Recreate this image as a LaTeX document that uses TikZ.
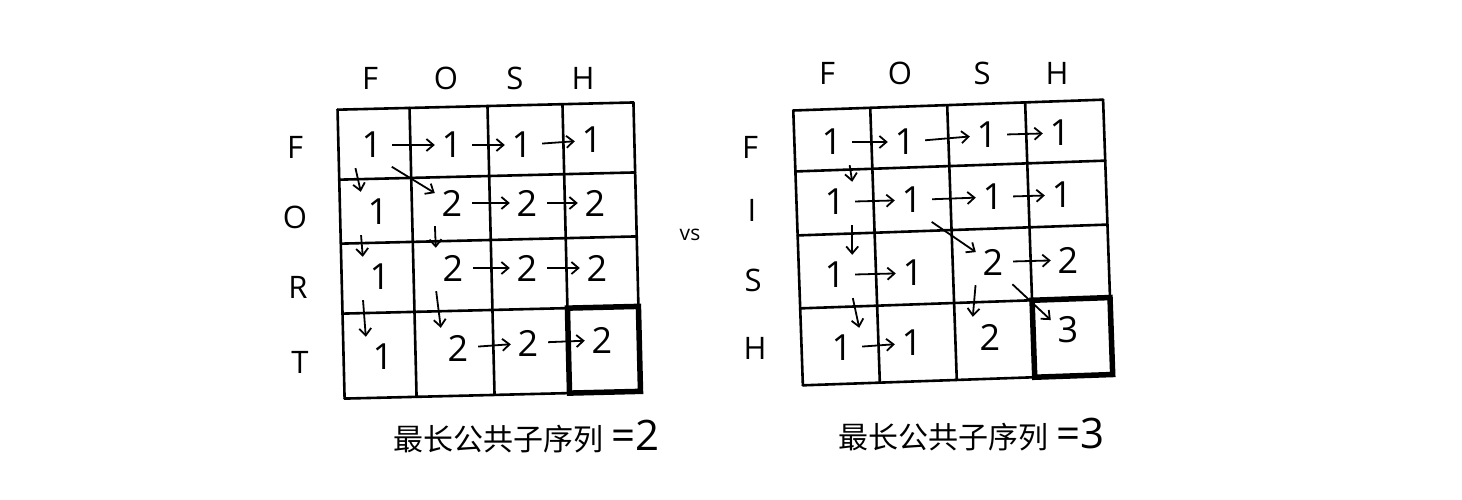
\documentclass[tikz,border=0pt]{standalone}
\usepackage{fontspec}
\setmainfont{Open Sans}
\newfontfamily\cjkfont{Noto Sans CJK SC}
\usetikzlibrary{arrows.meta}
\tikzset{
  num/.style={font=\fontsize{36}{36}\selectfont, inner sep=0pt,
    minimum width=34pt, minimum height=40pt},
  letter/.style={font=\fontsize{31}{31}\selectfont, inner sep=0pt},
  move/.style={-{Straight Barb[length=7pt,width=12pt]}, line width=1.8pt,
    shorten <=3pt},
  gridline/.style={line width=2.6pt, line cap=round},
  answer/.style={line width=5.5pt, line join=miter},
  total/.style={anchor=base west, inner sep=0pt}
}
\newcommand{\lcsword}{{\cjkfont\fontsize{30}{30}\selectfont 最长公共子序列}\hspace{8pt}}

\begin{document}
\begin{tikzpicture}[x=1pt, y=-1pt]
	\useasboundingbox (0,0) rectangle (1462,500);
	% FORT vs FOSH
	\begin{scope}[rotate around={1.4:(490,250)}]
		\foreach \x in {341,413,491,566,637} \draw[gridline] (\x,106) -- (\x,395);
		\foreach \y in {106,176,240,310,395} \draw[gridline] (341,\y) -- (637,\y);
		\draw[answer] (566,310) rectangle (637,395);
	\end{scope}
	\foreach \t/\x in {F/370, O/446, S/515, H/583} \node[letter] at (\x,78) {\t};
	\foreach \t/\x/\y in {F/295/147, O/295/217, R/298/287, T/300/362} \node[letter] at (\x,\y) {\t};
	\node[num] (a11) at (372,145) {1}; \node[num] (a12) at (452,145) {1};
	\node[num] (a13) at (522,145) {1}; \node[num] (a14) at (592,140) {1};
	\node[num] (a21) at (378,212) {1}; \node[num] (a22) at (452,203) {2};
	\node[num] (a23) at (527,203) {2}; \node[num] (a24) at (595,203) {2};
	\node[num] (a31) at (380,277) {1}; \node[num] (a32) at (453,268) {2};
	\node[num] (a33) at (527,268) {2}; \node[num] (a34) at (597,268) {2};
	\node[num] (a41) at (383,357) {1}; \node[num] (a42) at (458,348) {2};
	\node[num] (a43) at (528,343) {2}; \node[num] (a44) at (602,340) {2};
	\draw[move] (a11) -- (a12); \draw[move] (a12) -- (a13); \draw[move] (a13) -- (a14);
	\draw[move] (a11.south west) -- (a21.north west);
	\draw[move] (a11.south east) -- (a22.150);
	\draw[move] (a22) -- (a23); \draw[move] (a23) -- (a24);
	\draw[move] (a21.south west) -- (a31.north west);
	\draw[move] (a22.south west) -- (a32.north west);
	\draw[move] (a32) -- (a33); \draw[move] (a33) -- (a34);
	\draw[move] (a31.south west) -- (a41.north west);
	\draw[move] (a32.south west) -- (a42.north west);
	\draw[move] (a42) -- (a43); \draw[move] (a43) -- (a44);
	\node[total] (ares) at (393,450) {\lcsword{\fontsize{42}{42}\selectfont =2}};

	\node[font=\fontsize{21}{21}\selectfont] (vs) at (690,235) {vs};

	% FISH vs FOSH
	\begin{scope}[rotate around={2:(953,243)}]
		\foreach \x in {798,875,952,1030,1108} \draw[gridline] (\x,105) -- (\x,380);
		\foreach \y in {105,166,230,303,380} \draw[gridline] (798,\y) -- (1108,\y);
		\draw[answer] (1030,303) rectangle (1108,380);
	\end{scope}
	\foreach \t/\x in {F/827, O/900, S/982, H/1057} \node[letter] at (\x,73) {\t};
	\foreach \t/\x/\y in {F/750/147, I/752/210, S/753/280, H/755/348} \node[letter] at (\x,\y) {\t};
	\node[num] (b11) at (832,142) {1}; \node[num] (b12) at (905,142) {1};
	\node[num] (b13) at (987,135) {1}; \node[num] (b14) at (1060,133) {1};
	\node[num] (b21) at (835,202) {1}; \node[num] (b22) at (912,200) {1};
	\node[num] (b23) at (993,197) {1}; \node[num] (b24) at (1062,195) {1};
	\node[num] (b31) at (835,275) {1}; \node[num] (b32) at (913,273) {1};
	\node[num] (b33) at (993,262) {2}; \node[num] (b34) at (1068,260) {2};
	\node[num] (b41) at (842,348) {1}; \node[num] (b42) at (912,343) {1};
	\node[num] (b43) at (990,337) {2}; \node[num] (b44) at (1068,330) {3};
	\draw[move] (b11) -- (b12); \draw[move] (b12) -- (b13); \draw[move] (b13) -- (b14);
	\draw[move] (b11.south east) -- (b21.north east);
	\draw[move] (b21) -- (b22); \draw[move] (b22) -- (b23); \draw[move] (b23) -- (b24);
	\draw[move] (b21.south east) -- (b31.north east);
	\draw[move] (b22.south east) -- (b33.150);
	\draw[move] (b31) -- (b32); \draw[move] (b33) -- (b34);
	\draw[move] (b31.south east) -- (b41.north east);
	\draw[move] (b33.south west) -- (b43.north west);
	\draw[move] (b33.south east) -- (b44.150);
	\draw[move] (b41) -- (b42);
	\node[total] (bres) at (838,448) {\lcsword{\fontsize{42}{42}\selectfont =3}};
\end{tikzpicture}
\end{document}
